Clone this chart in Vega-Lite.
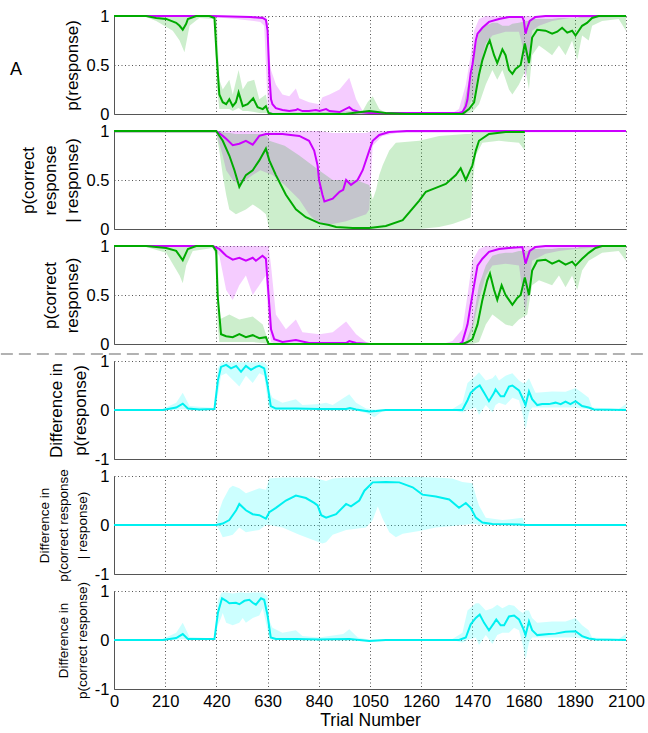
{
"$schema": "https://vega.github.io/schema/vega-lite/v6.json",
"padding": {"left": 0, "top": 8, "right": 0, "bottom": 5},
"bounds": "flush",
"spacing": 17,
"config": {
  "font": "Liberation Sans",
  "view": {"stroke": null},
  "axis": {"labelFont": "Liberation Sans", "titleFont": "Liberation Sans", "labelFontSize": 16.5, "titleFontSize": 17, "titleFontWeight": "normal", "labelColor": "#000", "titleColor": "#000", "domainColor": "#555", "domainWidth": 1, "gridColor": "#555", "gridDash": [1, 2.5], "gridOpacity": 1, "ticks": false, "labelPadding": 5, "titlePadding": 5, "labelOverlap": false, "labelFlush": false}
},
"datasets": {
"lines": [
{"p":1,"s":"P","t":0,"v":1},{"p":1,"s":"P","t":400,"v":1},{"p":1,"s":"P","t":560,"v":0.99},{"p":1,"s":"P","t":610,"v":0.98},{"p":1,"s":"P","t":623,"v":0.96},{"p":1,"s":"P","t":630,"v":0.85},{"p":1,"s":"P","t":637,"v":0.4},{"p":1,"s":"P","t":644,"v":0.15},{"p":1,"s":"P","t":650,"v":0.1},{"p":1,"s":"P","t":664,"v":0.06},{"p":1,"s":"P","t":691,"v":0.04},{"p":1,"s":"P","t":719,"v":0.03},{"p":1,"s":"P","t":746,"v":0.04},{"p":1,"s":"P","t":753,"v":0.05},{"p":1,"s":"P","t":773,"v":0.03},{"p":1,"s":"P","t":800,"v":0.03},{"p":1,"s":"P","t":828,"v":0.04},{"p":1,"s":"P","t":843,"v":0.03},{"p":1,"s":"P","t":870,"v":0.05},{"p":1,"s":"P","t":884,"v":0.03},{"p":1,"s":"P","t":925,"v":0.02},{"p":1,"s":"P","t":965,"v":0.07},{"p":1,"s":"P","t":979,"v":0.04},{"p":1,"s":"P","t":1006,"v":0.02},{"p":1,"s":"P","t":1047,"v":0.01},{"p":1,"s":"P","t":1415,"v":0.01},{"p":1,"s":"P","t":1429,"v":0.02},{"p":1,"s":"P","t":1443,"v":0.08},{"p":1,"s":"P","t":1450,"v":0.15},{"p":1,"s":"P","t":1456,"v":0.28},{"p":1,"s":"P","t":1463,"v":0.42},{"p":1,"s":"P","t":1470,"v":0.5},{"p":1,"s":"P","t":1477,"v":0.62},{"p":1,"s":"P","t":1484,"v":0.75},{"p":1,"s":"P","t":1491,"v":0.82},{"p":1,"s":"P","t":1511,"v":0.88},{"p":1,"s":"P","t":1538,"v":0.94},{"p":1,"s":"P","t":1579,"v":0.97},{"p":1,"s":"P","t":1620,"v":0.99},{"p":1,"s":"P","t":1675,"v":0.99},{"p":1,"s":"P","t":1681,"v":0.95},{"p":1,"s":"P","t":1688,"v":0.82},{"p":1,"s":"P","t":1695,"v":0.88},{"p":1,"s":"P","t":1705,"v":0.95},{"p":1,"s":"P","t":1729,"v":0.99},{"p":1,"s":"P","t":1770,"v":1},{"p":1,"s":"P","t":2100,"v":1},
{"p":1,"s":"G","t":0,"v":1},{"p":1,"s":"G","t":132,"v":1},{"p":1,"s":"G","t":173,"v":0.98},{"p":1,"s":"G","t":214,"v":0.97},{"p":1,"s":"G","t":255,"v":0.93},{"p":1,"s":"G","t":269,"v":0.9},{"p":1,"s":"G","t":282,"v":0.86},{"p":1,"s":"G","t":296,"v":0.92},{"p":1,"s":"G","t":303,"v":0.97},{"p":1,"s":"G","t":337,"v":1},{"p":1,"s":"G","t":391,"v":1},{"p":1,"s":"G","t":412,"v":0.98},{"p":1,"s":"G","t":421,"v":0.6},{"p":1,"s":"G","t":432,"v":0.2},{"p":1,"s":"G","t":446,"v":0.12},{"p":1,"s":"G","t":460,"v":0.1},{"p":1,"s":"G","t":473,"v":0.15},{"p":1,"s":"G","t":487,"v":0.08},{"p":1,"s":"G","t":500,"v":0.12},{"p":1,"s":"G","t":511,"v":0.22},{"p":1,"s":"G","t":528,"v":0.08},{"p":1,"s":"G","t":548,"v":0.1},{"p":1,"s":"G","t":571,"v":0.16},{"p":1,"s":"G","t":589,"v":0.07},{"p":1,"s":"G","t":610,"v":0.05},{"p":1,"s":"G","t":623,"v":0.08},{"p":1,"s":"G","t":634,"v":0.01},{"p":1,"s":"G","t":650,"v":0},{"p":1,"s":"G","t":950,"v":0},{"p":1,"s":"G","t":979,"v":0.01},{"p":1,"s":"G","t":1047,"v":0.03},{"p":1,"s":"G","t":1115,"v":0.01},{"p":1,"s":"G","t":1200,"v":0},{"p":1,"s":"G","t":1429,"v":0},{"p":1,"s":"G","t":1456,"v":0.05},{"p":1,"s":"G","t":1477,"v":0.12},{"p":1,"s":"G","t":1497,"v":0.4},{"p":1,"s":"G","t":1511,"v":0.55},{"p":1,"s":"G","t":1531,"v":0.7},{"p":1,"s":"G","t":1541,"v":0.75},{"p":1,"s":"G","t":1559,"v":0.6},{"p":1,"s":"G","t":1572,"v":0.52},{"p":1,"s":"G","t":1593,"v":0.66},{"p":1,"s":"G","t":1606,"v":0.6},{"p":1,"s":"G","t":1620,"v":0.45},{"p":1,"s":"G","t":1634,"v":0.41},{"p":1,"s":"G","t":1647,"v":0.46},{"p":1,"s":"G","t":1668,"v":0.5},{"p":1,"s":"G","t":1685,"v":0.72},{"p":1,"s":"G","t":1702,"v":0.52},{"p":1,"s":"G","t":1715,"v":0.78},{"p":1,"s":"G","t":1736,"v":0.86},{"p":1,"s":"G","t":1770,"v":0.85},{"p":1,"s":"G","t":1797,"v":0.82},{"p":1,"s":"G","t":1818,"v":0.84},{"p":1,"s":"G","t":1838,"v":0.88},{"p":1,"s":"G","t":1859,"v":0.83},{"p":1,"s":"G","t":1879,"v":0.85},{"p":1,"s":"G","t":1893,"v":0.8},{"p":1,"s":"G","t":1920,"v":0.9},{"p":1,"s":"G","t":1940,"v":0.93},{"p":1,"s":"G","t":1961,"v":0.98},{"p":1,"s":"G","t":1988,"v":1},{"p":1,"s":"G","t":2100,"v":1},
{"p":2,"s":"P","t":0,"v":1},{"p":2,"s":"P","t":419,"v":1},{"p":2,"s":"P","t":446,"v":0.95},{"p":2,"s":"P","t":460,"v":0.92},{"p":2,"s":"P","t":487,"v":0.855},{"p":2,"s":"P","t":514,"v":0.87},{"p":2,"s":"P","t":541,"v":0.9},{"p":2,"s":"P","t":569,"v":0.86},{"p":2,"s":"P","t":596,"v":0.95},{"p":2,"s":"P","t":623,"v":0.97},{"p":2,"s":"P","t":691,"v":0.97},{"p":2,"s":"P","t":760,"v":0.95},{"p":2,"s":"P","t":800,"v":0.9},{"p":2,"s":"P","t":821,"v":0.8},{"p":2,"s":"P","t":835,"v":0.65},{"p":2,"s":"P","t":841,"v":0.5},{"p":2,"s":"P","t":855,"v":0.35},{"p":2,"s":"P","t":863,"v":0.28},{"p":2,"s":"P","t":897,"v":0.31},{"p":2,"s":"P","t":925,"v":0.38},{"p":2,"s":"P","t":940,"v":0.4},{"p":2,"s":"P","t":952,"v":0.5},{"p":2,"s":"P","t":972,"v":0.45},{"p":2,"s":"P","t":999,"v":0.5},{"p":2,"s":"P","t":1020,"v":0.6},{"p":2,"s":"P","t":1047,"v":0.8},{"p":2,"s":"P","t":1061,"v":0.9},{"p":2,"s":"P","t":1088,"v":0.96},{"p":2,"s":"P","t":1129,"v":0.99},{"p":2,"s":"P","t":1200,"v":1},{"p":2,"s":"P","t":2100,"v":1},
{"p":2,"s":"G","t":0,"v":1},{"p":2,"s":"G","t":419,"v":1},{"p":2,"s":"G","t":446,"v":0.9},{"p":2,"s":"G","t":473,"v":0.75},{"p":2,"s":"G","t":494,"v":0.6},{"p":2,"s":"G","t":514,"v":0.43},{"p":2,"s":"G","t":541,"v":0.55},{"p":2,"s":"G","t":569,"v":0.6},{"p":2,"s":"G","t":596,"v":0.7},{"p":2,"s":"G","t":623,"v":0.82},{"p":2,"s":"G","t":637,"v":0.7},{"p":2,"s":"G","t":664,"v":0.55},{"p":2,"s":"G","t":705,"v":0.35},{"p":2,"s":"G","t":746,"v":0.2},{"p":2,"s":"G","t":787,"v":0.12},{"p":2,"s":"G","t":841,"v":0.06},{"p":2,"s":"G","t":882,"v":0.04},{"p":2,"s":"G","t":911,"v":0.02},{"p":2,"s":"G","t":979,"v":0.01},{"p":2,"s":"G","t":1047,"v":0.01},{"p":2,"s":"G","t":1115,"v":0.03},{"p":2,"s":"G","t":1184,"v":0.09},{"p":2,"s":"G","t":1252,"v":0.29},{"p":2,"s":"G","t":1279,"v":0.38},{"p":2,"s":"G","t":1320,"v":0.42},{"p":2,"s":"G","t":1361,"v":0.46},{"p":2,"s":"G","t":1402,"v":0.55},{"p":2,"s":"G","t":1422,"v":0.62},{"p":2,"s":"G","t":1443,"v":0.5},{"p":2,"s":"G","t":1470,"v":0.65},{"p":2,"s":"G","t":1484,"v":0.8},{"p":2,"s":"G","t":1497,"v":0.9},{"p":2,"s":"G","t":1538,"v":0.97},{"p":2,"s":"G","t":1606,"v":0.99},{"p":2,"s":"G","t":1685,"v":0.99},
{"p":3,"s":"P","t":0,"v":1},{"p":3,"s":"P","t":405,"v":1},{"p":3,"s":"P","t":432,"v":0.97},{"p":3,"s":"P","t":460,"v":0.9},{"p":3,"s":"P","t":487,"v":0.86},{"p":3,"s":"P","t":514,"v":0.88},{"p":3,"s":"P","t":541,"v":0.85},{"p":3,"s":"P","t":569,"v":0.88},{"p":3,"s":"P","t":582,"v":0.85},{"p":3,"s":"P","t":609,"v":0.9},{"p":3,"s":"P","t":623,"v":0.87},{"p":3,"s":"P","t":634,"v":0.5},{"p":3,"s":"P","t":644,"v":0.15},{"p":3,"s":"P","t":657,"v":0.05},{"p":3,"s":"P","t":691,"v":0.02},{"p":3,"s":"P","t":746,"v":0.04},{"p":3,"s":"P","t":800,"v":0.01},{"p":3,"s":"P","t":952,"v":0.01},{"p":3,"s":"P","t":965,"v":0.03},{"p":3,"s":"P","t":993,"v":0.01},{"p":3,"s":"P","t":1047,"v":0},{"p":3,"s":"P","t":1415,"v":0},{"p":3,"s":"P","t":1429,"v":0.02},{"p":3,"s":"P","t":1450,"v":0.2},{"p":3,"s":"P","t":1463,"v":0.4},{"p":3,"s":"P","t":1477,"v":0.6},{"p":3,"s":"P","t":1491,"v":0.8},{"p":3,"s":"P","t":1511,"v":0.87},{"p":3,"s":"P","t":1538,"v":0.94},{"p":3,"s":"P","t":1579,"v":0.97},{"p":3,"s":"P","t":1620,"v":0.98},{"p":3,"s":"P","t":1675,"v":0.99},{"p":3,"s":"P","t":1688,"v":0.82},{"p":3,"s":"P","t":1705,"v":0.95},{"p":3,"s":"P","t":1729,"v":0.99},{"p":3,"s":"P","t":1770,"v":1},{"p":3,"s":"P","t":2100,"v":1},
{"p":3,"s":"G","t":0,"v":1},{"p":3,"s":"G","t":132,"v":1},{"p":3,"s":"G","t":214,"v":0.98},{"p":3,"s":"G","t":255,"v":0.95},{"p":3,"s":"G","t":282,"v":0.855},{"p":3,"s":"G","t":303,"v":0.97},{"p":3,"s":"G","t":337,"v":1},{"p":3,"s":"G","t":405,"v":1},{"p":3,"s":"G","t":419,"v":0.95},{"p":3,"s":"G","t":425,"v":0.5},{"p":3,"s":"G","t":439,"v":0.1},{"p":3,"s":"G","t":460,"v":0.08},{"p":3,"s":"G","t":487,"v":0.07},{"p":3,"s":"G","t":514,"v":0.1},{"p":3,"s":"G","t":541,"v":0.07},{"p":3,"s":"G","t":569,"v":0.09},{"p":3,"s":"G","t":596,"v":0.06},{"p":3,"s":"G","t":623,"v":0.07},{"p":3,"s":"G","t":634,"v":0},{"p":3,"s":"G","t":1429,"v":0},{"p":3,"s":"G","t":1450,"v":0.02},{"p":3,"s":"G","t":1470,"v":0.05},{"p":3,"s":"G","t":1491,"v":0.2},{"p":3,"s":"G","t":1511,"v":0.45},{"p":3,"s":"G","t":1531,"v":0.65},{"p":3,"s":"G","t":1542,"v":0.72},{"p":3,"s":"G","t":1559,"v":0.55},{"p":3,"s":"G","t":1572,"v":0.45},{"p":3,"s":"G","t":1590,"v":0.6},{"p":3,"s":"G","t":1606,"v":0.5},{"p":3,"s":"G","t":1620,"v":0.45},{"p":3,"s":"G","t":1634,"v":0.4},{"p":3,"s":"G","t":1654,"v":0.47},{"p":3,"s":"G","t":1668,"v":0.5},{"p":3,"s":"G","t":1685,"v":0.68},{"p":3,"s":"G","t":1702,"v":0.5},{"p":3,"s":"G","t":1715,"v":0.75},{"p":3,"s":"G","t":1736,"v":0.85},{"p":3,"s":"G","t":1770,"v":0.86},{"p":3,"s":"G","t":1797,"v":0.82},{"p":3,"s":"G","t":1825,"v":0.85},{"p":3,"s":"G","t":1852,"v":0.81},{"p":3,"s":"G","t":1879,"v":0.84},{"p":3,"s":"G","t":1893,"v":0.8},{"p":3,"s":"G","t":1920,"v":0.87},{"p":3,"s":"G","t":1947,"v":0.93},{"p":3,"s":"G","t":1975,"v":0.98},{"p":3,"s":"G","t":2002,"v":1},{"p":3,"s":"G","t":2100,"v":1},
{"p":4,"s":"C","t":0,"v":0},{"p":4,"s":"C","t":200,"v":0},{"p":4,"s":"C","t":255,"v":0.05},{"p":4,"s":"C","t":282,"v":0.13},{"p":4,"s":"C","t":303,"v":0.03},{"p":4,"s":"C","t":350,"v":0.01},{"p":4,"s":"C","t":412,"v":0.02},{"p":4,"s":"C","t":426,"v":0.6},{"p":4,"s":"C","t":439,"v":0.88},{"p":4,"s":"C","t":460,"v":0.92},{"p":4,"s":"C","t":480,"v":0.85},{"p":4,"s":"C","t":501,"v":0.9},{"p":4,"s":"C","t":521,"v":0.78},{"p":4,"s":"C","t":541,"v":0.9},{"p":4,"s":"C","t":562,"v":0.82},{"p":4,"s":"C","t":582,"v":0.88},{"p":4,"s":"C","t":596,"v":0.9},{"p":4,"s":"C","t":616,"v":0.85},{"p":4,"s":"C","t":630,"v":0.5},{"p":4,"s":"C","t":643,"v":0.08},{"p":4,"s":"C","t":664,"v":0.03},{"p":4,"s":"C","t":746,"v":0.03},{"p":4,"s":"C","t":841,"v":0.02},{"p":4,"s":"C","t":952,"v":0.02},{"p":4,"s":"C","t":968,"v":0.04},{"p":4,"s":"C","t":993,"v":0.01},{"p":4,"s":"C","t":1047,"v":-0.03},{"p":4,"s":"C","t":1075,"v":-0.02},{"p":4,"s":"C","t":1115,"v":0},{"p":4,"s":"C","t":1429,"v":0},{"p":4,"s":"C","t":1450,"v":0.2},{"p":4,"s":"C","t":1463,"v":0.35},{"p":4,"s":"C","t":1484,"v":0.45},{"p":4,"s":"C","t":1500,"v":0.5},{"p":4,"s":"C","t":1518,"v":0.35},{"p":4,"s":"C","t":1538,"v":0.18},{"p":4,"s":"C","t":1559,"v":0.35},{"p":4,"s":"C","t":1565,"v":0.42},{"p":4,"s":"C","t":1586,"v":0.28},{"p":4,"s":"C","t":1600,"v":0.28},{"p":4,"s":"C","t":1620,"v":0.48},{"p":4,"s":"C","t":1634,"v":0.5},{"p":4,"s":"C","t":1661,"v":0.4},{"p":4,"s":"C","t":1675,"v":0.25},{"p":4,"s":"C","t":1688,"v":0.1},{"p":4,"s":"C","t":1702,"v":0.38},{"p":4,"s":"C","t":1715,"v":0.22},{"p":4,"s":"C","t":1736,"v":0.1},{"p":4,"s":"C","t":1756,"v":0.12},{"p":4,"s":"C","t":1784,"v":0.12},{"p":4,"s":"C","t":1811,"v":0.15},{"p":4,"s":"C","t":1832,"v":0.12},{"p":4,"s":"C","t":1852,"v":0.17},{"p":4,"s":"C","t":1872,"v":0.12},{"p":4,"s":"C","t":1893,"v":0.18},{"p":4,"s":"C","t":1920,"v":0.08},{"p":4,"s":"C","t":1947,"v":0.05},{"p":4,"s":"C","t":1968,"v":0.01},{"p":4,"s":"C","t":2100,"v":0},
{"p":5,"s":"C","t":0,"v":0},{"p":5,"s":"C","t":419,"v":0},{"p":5,"s":"C","t":446,"v":0.03},{"p":5,"s":"C","t":473,"v":0.1},{"p":5,"s":"C","t":501,"v":0.3},{"p":5,"s":"C","t":514,"v":0.43},{"p":5,"s":"C","t":541,"v":0.3},{"p":5,"s":"C","t":569,"v":0.22},{"p":5,"s":"C","t":596,"v":0.2},{"p":5,"s":"C","t":623,"v":0.13},{"p":5,"s":"C","t":637,"v":0.26},{"p":5,"s":"C","t":664,"v":0.35},{"p":5,"s":"C","t":705,"v":0.5},{"p":5,"s":"C","t":746,"v":0.6},{"p":5,"s":"C","t":787,"v":0.55},{"p":5,"s":"C","t":821,"v":0.45},{"p":5,"s":"C","t":835,"v":0.4},{"p":5,"s":"C","t":850,"v":0.2},{"p":5,"s":"C","t":870,"v":0.15},{"p":5,"s":"C","t":911,"v":0.22},{"p":5,"s":"C","t":952,"v":0.43},{"p":5,"s":"C","t":972,"v":0.38},{"p":5,"s":"C","t":1006,"v":0.5},{"p":5,"s":"C","t":1027,"v":0.7},{"p":5,"s":"C","t":1061,"v":0.87},{"p":5,"s":"C","t":1115,"v":0.88},{"p":5,"s":"C","t":1170,"v":0.87},{"p":5,"s":"C","t":1225,"v":0.77},{"p":5,"s":"C","t":1265,"v":0.62},{"p":5,"s":"C","t":1320,"v":0.58},{"p":5,"s":"C","t":1375,"v":0.52},{"p":5,"s":"C","t":1415,"v":0.35},{"p":5,"s":"C","t":1443,"v":0.45},{"p":5,"s":"C","t":1463,"v":0.35},{"p":5,"s":"C","t":1484,"v":0.15},{"p":5,"s":"C","t":1511,"v":0.05},{"p":5,"s":"C","t":1552,"v":0.02},{"p":5,"s":"C","t":1661,"v":0.01},{"p":5,"s":"C","t":1688,"v":0},{"p":5,"s":"C","t":2100,"v":0},
{"p":6,"s":"C","t":0,"v":0},{"p":6,"s":"C","t":200,"v":0},{"p":6,"s":"C","t":255,"v":0.04},{"p":6,"s":"C","t":282,"v":0.12},{"p":6,"s":"C","t":303,"v":0.02},{"p":6,"s":"C","t":412,"v":0.02},{"p":6,"s":"C","t":426,"v":0.55},{"p":6,"s":"C","t":443,"v":0.85},{"p":6,"s":"C","t":460,"v":0.8},{"p":6,"s":"C","t":473,"v":0.75},{"p":6,"s":"C","t":500,"v":0.76},{"p":6,"s":"C","t":514,"v":0.73},{"p":6,"s":"C","t":535,"v":0.8},{"p":6,"s":"C","t":555,"v":0.82},{"p":6,"s":"C","t":569,"v":0.76},{"p":6,"s":"C","t":582,"v":0.72},{"p":6,"s":"C","t":603,"v":0.85},{"p":6,"s":"C","t":616,"v":0.82},{"p":6,"s":"C","t":630,"v":0.5},{"p":6,"s":"C","t":643,"v":0.05},{"p":6,"s":"C","t":664,"v":0.02},{"p":6,"s":"C","t":746,"v":0.02},{"p":6,"s":"C","t":841,"v":0.01},{"p":6,"s":"C","t":965,"v":0.02},{"p":6,"s":"C","t":1047,"v":-0.02},{"p":6,"s":"C","t":1115,"v":0},{"p":6,"s":"C","t":1415,"v":0},{"p":6,"s":"C","t":1443,"v":0.05},{"p":6,"s":"C","t":1463,"v":0.32},{"p":6,"s":"C","t":1484,"v":0.45},{"p":6,"s":"C","t":1500,"v":0.52},{"p":6,"s":"C","t":1518,"v":0.35},{"p":6,"s":"C","t":1538,"v":0.2},{"p":6,"s":"C","t":1559,"v":0.35},{"p":6,"s":"C","t":1568,"v":0.42},{"p":6,"s":"C","t":1586,"v":0.3},{"p":6,"s":"C","t":1600,"v":0.3},{"p":6,"s":"C","t":1620,"v":0.48},{"p":6,"s":"C","t":1641,"v":0.5},{"p":6,"s":"C","t":1661,"v":0.42},{"p":6,"s":"C","t":1677,"v":0.25},{"p":6,"s":"C","t":1688,"v":0.1},{"p":6,"s":"C","t":1702,"v":0.38},{"p":6,"s":"C","t":1715,"v":0.2},{"p":6,"s":"C","t":1736,"v":0.1},{"p":6,"s":"C","t":1784,"v":0.12},{"p":6,"s":"C","t":1811,"v":0.13},{"p":6,"s":"C","t":1852,"v":0.17},{"p":6,"s":"C","t":1893,"v":0.18},{"p":6,"s":"C","t":1920,"v":0.08},{"p":6,"s":"C","t":1947,"v":0.03},{"p":6,"s":"C","t":1975,"v":0.01},{"p":6,"s":"C","t":2100,"v":0}
],
"bands": [
{"p":1,"s":"P","t":0,"lo":0.99,"hi":1},{"p":1,"s":"P","t":400,"lo":0.99,"hi":1},{"p":1,"s":"P","t":500,"lo":0.97,"hi":1},{"p":1,"s":"P","t":600,"lo":0.94,"hi":1},{"p":1,"s":"P","t":616,"lo":0.9,"hi":1},{"p":1,"s":"P","t":623,"lo":0.5,"hi":1},{"p":1,"s":"P","t":630,"lo":0.1,"hi":0.95},{"p":1,"s":"P","t":637,"lo":0.02,"hi":0.6},{"p":1,"s":"P","t":644,"lo":0.01,"hi":0.45},{"p":1,"s":"P","t":664,"lo":0.01,"hi":0.3},{"p":1,"s":"P","t":691,"lo":0.01,"hi":0.2},{"p":1,"s":"P","t":719,"lo":0.01,"hi":0.18},{"p":1,"s":"P","t":746,"lo":0.01,"hi":0.26},{"p":1,"s":"P","t":760,"lo":0.01,"hi":0.16},{"p":1,"s":"P","t":800,"lo":0.01,"hi":0.12},{"p":1,"s":"P","t":841,"lo":0,"hi":0.1},{"p":1,"s":"P","t":855,"lo":0,"hi":0.17},{"p":1,"s":"P","t":884,"lo":0,"hi":0.2},{"p":1,"s":"P","t":925,"lo":0,"hi":0.25},{"p":1,"s":"P","t":965,"lo":0,"hi":0.37},{"p":1,"s":"P","t":993,"lo":0,"hi":0.15},{"p":1,"s":"P","t":1020,"lo":0,"hi":0.03},{"p":1,"s":"P","t":1047,"lo":0,"hi":0.01},{"p":1,"s":"P","t":1388,"lo":0,"hi":0.01},{"p":1,"s":"P","t":1415,"lo":0,"hi":0.05},{"p":1,"s":"P","t":1443,"lo":0,"hi":0.3},{"p":1,"s":"P","t":1463,"lo":0.12,"hi":0.6},{"p":1,"s":"P","t":1477,"lo":0.2,"hi":0.85},{"p":1,"s":"P","t":1497,"lo":0.45,"hi":0.97},{"p":1,"s":"P","t":1525,"lo":0.72,"hi":1},{"p":1,"s":"P","t":1552,"lo":0.8,"hi":1},{"p":1,"s":"P","t":1606,"lo":0.84,"hi":1},{"p":1,"s":"P","t":1661,"lo":0.84,"hi":1},{"p":1,"s":"P","t":1675,"lo":0.7,"hi":1},{"p":1,"s":"P","t":1688,"lo":0.35,"hi":1},{"p":1,"s":"P","t":1702,"lo":0.6,"hi":1},{"p":1,"s":"P","t":1715,"lo":0.85,"hi":1},{"p":1,"s":"P","t":1743,"lo":0.9,"hi":1},{"p":1,"s":"P","t":1797,"lo":0.95,"hi":1},{"p":1,"s":"P","t":1870,"lo":0.98,"hi":1},{"p":1,"s":"P","t":2100,"lo":0.99,"hi":1},
{"p":1,"s":"G","t":0,"lo":1,"hi":1},{"p":1,"s":"G","t":132,"lo":0.99,"hi":1},{"p":1,"s":"G","t":173,"lo":0.95,"hi":1},{"p":1,"s":"G","t":241,"lo":0.85,"hi":1},{"p":1,"s":"G","t":269,"lo":0.75,"hi":1},{"p":1,"s":"G","t":289,"lo":0.63,"hi":1},{"p":1,"s":"G","t":310,"lo":0.9,"hi":1},{"p":1,"s":"G","t":350,"lo":0.98,"hi":1},{"p":1,"s":"G","t":412,"lo":0.97,"hi":1},{"p":1,"s":"G","t":421,"lo":0.3,"hi":1},{"p":1,"s":"G","t":432,"lo":0.05,"hi":0.35},{"p":1,"s":"G","t":446,"lo":0.05,"hi":0.25},{"p":1,"s":"G","t":473,"lo":0.05,"hi":0.35},{"p":1,"s":"G","t":487,"lo":0.03,"hi":0.2},{"p":1,"s":"G","t":511,"lo":0.06,"hi":0.45},{"p":1,"s":"G","t":528,"lo":0.03,"hi":0.25},{"p":1,"s":"G","t":548,"lo":0.03,"hi":0.33},{"p":1,"s":"G","t":575,"lo":0.02,"hi":0.35},{"p":1,"s":"G","t":596,"lo":0.01,"hi":0.15},{"p":1,"s":"G","t":623,"lo":0.01,"hi":0.2},{"p":1,"s":"G","t":634,"lo":0,"hi":0.03},{"p":1,"s":"G","t":650,"lo":0,"hi":0.01},{"p":1,"s":"G","t":1020,"lo":0,"hi":0.03},{"p":1,"s":"G","t":1040,"lo":0,"hi":0.12},{"p":1,"s":"G","t":1061,"lo":0,"hi":0.18},{"p":1,"s":"G","t":1088,"lo":0,"hi":0.05},{"p":1,"s":"G","t":1115,"lo":0,"hi":0.01},{"p":1,"s":"G","t":1429,"lo":0,"hi":0.01},{"p":1,"s":"G","t":1443,"lo":0,"hi":0.2},{"p":1,"s":"G","t":1470,"lo":0.02,"hi":0.5},{"p":1,"s":"G","t":1497,"lo":0.1,"hi":0.85},{"p":1,"s":"G","t":1525,"lo":0.3,"hi":0.9},{"p":1,"s":"G","t":1552,"lo":0.45,"hi":0.93},{"p":1,"s":"G","t":1572,"lo":0.35,"hi":0.93},{"p":1,"s":"G","t":1593,"lo":0.45,"hi":0.9},{"p":1,"s":"G","t":1620,"lo":0.25,"hi":0.9},{"p":1,"s":"G","t":1634,"lo":0.2,"hi":0.92},{"p":1,"s":"G","t":1661,"lo":0.3,"hi":0.93},{"p":1,"s":"G","t":1688,"lo":0.45,"hi":0.95},{"p":1,"s":"G","t":1702,"lo":0.25,"hi":0.95},{"p":1,"s":"G","t":1715,"lo":0.6,"hi":0.97},{"p":1,"s":"G","t":1743,"lo":0.7,"hi":0.97},{"p":1,"s":"G","t":1770,"lo":0.65,"hi":0.97},{"p":1,"s":"G","t":1797,"lo":0.6,"hi":0.97},{"p":1,"s":"G","t":1825,"lo":0.7,"hi":0.98},{"p":1,"s":"G","t":1852,"lo":0.6,"hi":0.98},{"p":1,"s":"G","t":1879,"lo":0.75,"hi":0.98},{"p":1,"s":"G","t":1900,"lo":0.55,"hi":0.98},{"p":1,"s":"G","t":1920,"lo":0.8,"hi":1},{"p":1,"s":"G","t":1947,"lo":0.75,"hi":1},{"p":1,"s":"G","t":1961,"lo":0.9,"hi":1},{"p":1,"s":"G","t":2002,"lo":0.95,"hi":1},{"p":1,"s":"G","t":2070,"lo":0.97,"hi":1},{"p":1,"s":"G","t":2100,"lo":0.85,"hi":1},
{"p":2,"s":"P","t":0,"lo":0.98,"hi":1},{"p":2,"s":"P","t":419,"lo":0.98,"hi":1},{"p":2,"s":"P","t":446,"lo":0.75,"hi":1},{"p":2,"s":"P","t":460,"lo":0.6,"hi":1},{"p":2,"s":"P","t":487,"lo":0.5,"hi":1},{"p":2,"s":"P","t":514,"lo":0.45,"hi":1},{"p":2,"s":"P","t":541,"lo":0.5,"hi":1},{"p":2,"s":"P","t":569,"lo":0.55,"hi":1},{"p":2,"s":"P","t":600,"lo":0.6,"hi":1},{"p":2,"s":"P","t":650,"lo":0.55,"hi":1},{"p":2,"s":"P","t":700,"lo":0.45,"hi":1},{"p":2,"s":"P","t":760,"lo":0.3,"hi":1},{"p":2,"s":"P","t":800,"lo":0.15,"hi":1},{"p":2,"s":"P","t":841,"lo":0.05,"hi":1},{"p":2,"s":"P","t":897,"lo":0.05,"hi":0.98},{"p":2,"s":"P","t":952,"lo":0.08,"hi":0.98},{"p":2,"s":"P","t":1034,"lo":0.15,"hi":0.98},{"p":2,"s":"P","t":1047,"lo":0.2,"hi":0.99},{"p":2,"s":"P","t":1061,"lo":0.85,"hi":1},{"p":2,"s":"P","t":1100,"lo":0.95,"hi":1},{"p":2,"s":"P","t":1160,"lo":0.98,"hi":1},{"p":2,"s":"P","t":2100,"lo":0.99,"hi":1},
{"p":2,"s":"G","t":0,"lo":0.98,"hi":1},{"p":2,"s":"G","t":419,"lo":0.98,"hi":1},{"p":2,"s":"G","t":432,"lo":0.8,"hi":1},{"p":2,"s":"G","t":446,"lo":0.55,"hi":0.99},{"p":2,"s":"G","t":460,"lo":0.35,"hi":0.98},{"p":2,"s":"G","t":473,"lo":0.2,"hi":0.98},{"p":2,"s":"G","t":500,"lo":0.15,"hi":0.97},{"p":2,"s":"G","t":541,"lo":0.2,"hi":0.97},{"p":2,"s":"G","t":569,"lo":0.25,"hi":0.97},{"p":2,"s":"G","t":600,"lo":0.2,"hi":0.97},{"p":2,"s":"G","t":623,"lo":0.15,"hi":0.97},{"p":2,"s":"G","t":637,"lo":0,"hi":0.9},{"p":2,"s":"G","t":700,"lo":0,"hi":0.85},{"p":2,"s":"G","t":760,"lo":0,"hi":0.75},{"p":2,"s":"G","t":841,"lo":0,"hi":0.6},{"p":2,"s":"G","t":897,"lo":0,"hi":0.5},{"p":2,"s":"G","t":993,"lo":0,"hi":0.5},{"p":2,"s":"G","t":1047,"lo":0,"hi":0.45},{"p":2,"s":"G","t":1061,"lo":0,"hi":0.3},{"p":2,"s":"G","t":1075,"lo":0,"hi":0.4},{"p":2,"s":"G","t":1088,"lo":0,"hi":0.55},{"p":2,"s":"G","t":1102,"lo":0,"hi":0.65},{"p":2,"s":"G","t":1129,"lo":0,"hi":0.8},{"p":2,"s":"G","t":1156,"lo":0,"hi":0.88},{"p":2,"s":"G","t":1252,"lo":0,"hi":0.9},{"p":2,"s":"G","t":1334,"lo":0.02,"hi":0.95},{"p":2,"s":"G","t":1388,"lo":0.05,"hi":0.96},{"p":2,"s":"G","t":1443,"lo":0.1,"hi":0.97},{"p":2,"s":"G","t":1463,"lo":0.12,"hi":0.97},{"p":2,"s":"G","t":1470,"lo":0.45,"hi":1},{"p":2,"s":"G","t":1484,"lo":0.75,"hi":1},{"p":2,"s":"G","t":1511,"lo":0.88,"hi":1},{"p":2,"s":"G","t":1579,"lo":0.9,"hi":1},{"p":2,"s":"G","t":1661,"lo":0.88,"hi":1},{"p":2,"s":"G","t":1685,"lo":0.8,"hi":1},
{"p":3,"s":"P","t":0,"lo":0.99,"hi":1},{"p":3,"s":"P","t":405,"lo":0.99,"hi":1},{"p":3,"s":"P","t":432,"lo":0.9,"hi":1},{"p":3,"s":"P","t":460,"lo":0.55,"hi":1},{"p":3,"s":"P","t":487,"lo":0.45,"hi":1},{"p":3,"s":"P","t":514,"lo":0.6,"hi":1},{"p":3,"s":"P","t":541,"lo":0.7,"hi":1},{"p":3,"s":"P","t":569,"lo":0.5,"hi":1},{"p":3,"s":"P","t":596,"lo":0.6,"hi":1},{"p":3,"s":"P","t":623,"lo":0.7,"hi":1},{"p":3,"s":"P","t":634,"lo":0.2,"hi":1},{"p":3,"s":"P","t":644,"lo":0.02,"hi":0.8},{"p":3,"s":"P","t":664,"lo":0,"hi":0.3},{"p":3,"s":"P","t":705,"lo":0,"hi":0.15},{"p":3,"s":"P","t":746,"lo":0,"hi":0.25},{"p":3,"s":"P","t":773,"lo":0,"hi":0.12},{"p":3,"s":"P","t":843,"lo":0,"hi":0.1},{"p":3,"s":"P","t":897,"lo":0,"hi":0.12},{"p":3,"s":"P","t":952,"lo":0,"hi":0.23},{"p":3,"s":"P","t":993,"lo":0,"hi":0.1},{"p":3,"s":"P","t":1034,"lo":0,"hi":0.02},{"p":3,"s":"P","t":1047,"lo":0,"hi":0.01},{"p":3,"s":"P","t":1361,"lo":0,"hi":0.01},{"p":3,"s":"P","t":1388,"lo":0,"hi":0.03},{"p":3,"s":"P","t":1429,"lo":0,"hi":0.15},{"p":3,"s":"P","t":1450,"lo":0,"hi":0.5},{"p":3,"s":"P","t":1470,"lo":0.15,"hi":0.85},{"p":3,"s":"P","t":1497,"lo":0.45,"hi":0.97},{"p":3,"s":"P","t":1525,"lo":0.7,"hi":1},{"p":3,"s":"P","t":1552,"lo":0.8,"hi":1},{"p":3,"s":"P","t":1606,"lo":0.82,"hi":1},{"p":3,"s":"P","t":1661,"lo":0.8,"hi":1},{"p":3,"s":"P","t":1688,"lo":0.32,"hi":1},{"p":3,"s":"P","t":1715,"lo":0.85,"hi":1},{"p":3,"s":"P","t":1770,"lo":0.92,"hi":1},{"p":3,"s":"P","t":1825,"lo":0.95,"hi":1},{"p":3,"s":"P","t":1893,"lo":0.97,"hi":1},{"p":3,"s":"P","t":2000,"lo":0.99,"hi":1},{"p":3,"s":"P","t":2100,"lo":0.99,"hi":1},
{"p":3,"s":"G","t":0,"lo":1,"hi":1},{"p":3,"s":"G","t":132,"lo":0.99,"hi":1},{"p":3,"s":"G","t":214,"lo":0.93,"hi":1},{"p":3,"s":"G","t":269,"lo":0.7,"hi":1},{"p":3,"s":"G","t":282,"lo":0.62,"hi":1},{"p":3,"s":"G","t":296,"lo":0.8,"hi":1},{"p":3,"s":"G","t":323,"lo":0.95,"hi":1},{"p":3,"s":"G","t":405,"lo":0.98,"hi":1},{"p":3,"s":"G","t":419,"lo":0.9,"hi":1},{"p":3,"s":"G","t":425,"lo":0.2,"hi":1},{"p":3,"s":"G","t":432,"lo":0.02,"hi":0.25},{"p":3,"s":"G","t":473,"lo":0.02,"hi":0.3},{"p":3,"s":"G","t":514,"lo":0.02,"hi":0.25},{"p":3,"s":"G","t":569,"lo":0.02,"hi":0.28},{"p":3,"s":"G","t":610,"lo":0.01,"hi":0.2},{"p":3,"s":"G","t":634,"lo":0,"hi":0.02},{"p":3,"s":"G","t":650,"lo":0,"hi":0.01},{"p":3,"s":"G","t":1429,"lo":0,"hi":0.01},{"p":3,"s":"G","t":1443,"lo":0,"hi":0.02},{"p":3,"s":"G","t":1470,"lo":0,"hi":0.2},{"p":3,"s":"G","t":1497,"lo":0.02,"hi":0.6},{"p":3,"s":"G","t":1525,"lo":0.2,"hi":0.8},{"p":3,"s":"G","t":1552,"lo":0.3,"hi":0.9},{"p":3,"s":"G","t":1579,"lo":0.25,"hi":0.92},{"p":3,"s":"G","t":1606,"lo":0.2,"hi":0.93},{"p":3,"s":"G","t":1634,"lo":0.18,"hi":0.93},{"p":3,"s":"G","t":1661,"lo":0.25,"hi":0.95},{"p":3,"s":"G","t":1695,"lo":0.3,"hi":0.95},{"p":3,"s":"G","t":1715,"lo":0.6,"hi":0.97},{"p":3,"s":"G","t":1743,"lo":0.65,"hi":0.97},{"p":3,"s":"G","t":1797,"lo":0.6,"hi":0.97},{"p":3,"s":"G","t":1825,"lo":0.7,"hi":0.98},{"p":3,"s":"G","t":1852,"lo":0.58,"hi":0.98},{"p":3,"s":"G","t":1879,"lo":0.7,"hi":0.98},{"p":3,"s":"G","t":1900,"lo":0.55,"hi":0.98},{"p":3,"s":"G","t":1920,"lo":0.75,"hi":1},{"p":3,"s":"G","t":1947,"lo":0.85,"hi":1},{"p":3,"s":"G","t":2002,"lo":0.93,"hi":1},{"p":3,"s":"G","t":2070,"lo":0.95,"hi":1},{"p":3,"s":"G","t":2100,"lo":0.85,"hi":1},
{"p":4,"s":"C","t":0,"lo":0,"hi":0},{"p":4,"s":"C","t":200,"lo":0,"hi":0.02},{"p":4,"s":"C","t":255,"lo":0,"hi":0.15},{"p":4,"s":"C","t":282,"lo":0.02,"hi":0.35},{"p":4,"s":"C","t":310,"lo":0,"hi":0.08},{"p":4,"s":"C","t":412,"lo":0,"hi":0.04},{"p":4,"s":"C","t":426,"lo":0.3,"hi":0.85},{"p":4,"s":"C","t":439,"lo":0.7,"hi":0.97},{"p":4,"s":"C","t":460,"lo":0.75,"hi":0.98},{"p":4,"s":"C","t":480,"lo":0.65,"hi":0.97},{"p":4,"s":"C","t":500,"lo":0.55,"hi":0.98},{"p":4,"s":"C","t":514,"lo":0.48,"hi":0.97},{"p":4,"s":"C","t":541,"lo":0.7,"hi":0.98},{"p":4,"s":"C","t":569,"lo":0.55,"hi":0.97},{"p":4,"s":"C","t":596,"lo":0.75,"hi":0.98},{"p":4,"s":"C","t":616,"lo":0.7,"hi":0.97},{"p":4,"s":"C","t":630,"lo":0.2,"hi":0.9},{"p":4,"s":"C","t":637,"lo":0.02,"hi":0.4},{"p":4,"s":"C","t":650,"lo":0,"hi":0.25},{"p":4,"s":"C","t":691,"lo":0,"hi":0.15},{"p":4,"s":"C","t":746,"lo":0,"hi":0.22},{"p":4,"s":"C","t":773,"lo":0,"hi":0.1},{"p":4,"s":"C","t":841,"lo":0,"hi":0.12},{"p":4,"s":"C","t":870,"lo":-0.01,"hi":0.15},{"p":4,"s":"C","t":897,"lo":-0.01,"hi":0.1},{"p":4,"s":"C","t":965,"lo":-0.01,"hi":0.32},{"p":4,"s":"C","t":993,"lo":-0.01,"hi":0.15},{"p":4,"s":"C","t":1034,"lo":-0.06,"hi":0.03},{"p":4,"s":"C","t":1068,"lo":-0.15,"hi":0.01},{"p":4,"s":"C","t":1102,"lo":-0.02,"hi":0.01},{"p":4,"s":"C","t":1150,"lo":0,"hi":0.01},{"p":4,"s":"C","t":1388,"lo":0,"hi":0.02},{"p":4,"s":"C","t":1429,"lo":-0.05,"hi":0.15},{"p":4,"s":"C","t":1450,"lo":0,"hi":0.55},{"p":4,"s":"C","t":1484,"lo":0.05,"hi":0.7},{"p":4,"s":"C","t":1497,"lo":-0.1,"hi":0.77},{"p":4,"s":"C","t":1525,"lo":0.1,"hi":0.6},{"p":4,"s":"C","t":1552,"lo":-0.05,"hi":0.65},{"p":4,"s":"C","t":1565,"lo":0.1,"hi":0.72},{"p":4,"s":"C","t":1579,"lo":0.15,"hi":0.6},{"p":4,"s":"C","t":1606,"lo":0.1,"hi":0.7},{"p":4,"s":"C","t":1634,"lo":0.25,"hi":0.75},{"p":4,"s":"C","t":1661,"lo":0.2,"hi":0.6},{"p":4,"s":"C","t":1677,"lo":-0.1,"hi":0.55},{"p":4,"s":"C","t":1688,"lo":-0.4,"hi":0.55},{"p":4,"s":"C","t":1702,"lo":-0.05,"hi":0.65},{"p":4,"s":"C","t":1715,"lo":0.05,"hi":0.5},{"p":4,"s":"C","t":1729,"lo":0.05,"hi":0.35},{"p":4,"s":"C","t":1797,"lo":0.05,"hi":0.38},{"p":4,"s":"C","t":1852,"lo":0.05,"hi":0.37},{"p":4,"s":"C","t":1893,"lo":0.05,"hi":0.45},{"p":4,"s":"C","t":1920,"lo":0.03,"hi":0.35},{"p":4,"s":"C","t":1947,"lo":0.02,"hi":0.25},{"p":4,"s":"C","t":1961,"lo":0,"hi":0.05},{"p":4,"s":"C","t":2070,"lo":0,"hi":0.02},{"p":4,"s":"C","t":2100,"lo":0,"hi":0.12},
{"p":5,"s":"C","t":0,"lo":0,"hi":0},{"p":5,"s":"C","t":419,"lo":0,"hi":0.02},{"p":5,"s":"C","t":432,"lo":-0.1,"hi":0.3},{"p":5,"s":"C","t":446,"lo":-0.25,"hi":0.5},{"p":5,"s":"C","t":473,"lo":-0.22,"hi":0.75},{"p":5,"s":"C","t":487,"lo":-0.2,"hi":0.8},{"p":5,"s":"C","t":514,"lo":-0.05,"hi":0.75},{"p":5,"s":"C","t":541,"lo":-0.15,"hi":0.65},{"p":5,"s":"C","t":569,"lo":-0.12,"hi":0.7},{"p":5,"s":"C","t":596,"lo":-0.1,"hi":0.75},{"p":5,"s":"C","t":623,"lo":0,"hi":0.72},{"p":5,"s":"C","t":637,"lo":0,"hi":0.95},{"p":5,"s":"C","t":691,"lo":-0.05,"hi":0.97},{"p":5,"s":"C","t":760,"lo":-0.2,"hi":0.97},{"p":5,"s":"C","t":814,"lo":-0.3,"hi":0.97},{"p":5,"s":"C","t":855,"lo":-0.38,"hi":0.92},{"p":5,"s":"C","t":870,"lo":-0.35,"hi":0.9},{"p":5,"s":"C","t":897,"lo":-0.2,"hi":0.95},{"p":5,"s":"C","t":952,"lo":-0.1,"hi":0.97},{"p":5,"s":"C","t":1034,"lo":-0.05,"hi":0.97},{"p":5,"s":"C","t":1061,"lo":0.1,"hi":0.98},{"p":5,"s":"C","t":1082,"lo":0.38,"hi":0.98},{"p":5,"s":"C","t":1100,"lo":0.15,"hi":0.98},{"p":5,"s":"C","t":1129,"lo":-0.15,"hi":0.98},{"p":5,"s":"C","t":1156,"lo":-0.25,"hi":0.98},{"p":5,"s":"C","t":1184,"lo":-0.18,"hi":0.98},{"p":5,"s":"C","t":1252,"lo":-0.12,"hi":0.98},{"p":5,"s":"C","t":1320,"lo":-0.05,"hi":0.97},{"p":5,"s":"C","t":1388,"lo":-0.02,"hi":0.95},{"p":5,"s":"C","t":1429,"lo":0,"hi":0.88},{"p":5,"s":"C","t":1470,"lo":0.02,"hi":0.85},{"p":5,"s":"C","t":1484,"lo":0.02,"hi":0.6},{"p":5,"s":"C","t":1497,"lo":0,"hi":0.4},{"p":5,"s":"C","t":1525,"lo":0,"hi":0.15},{"p":5,"s":"C","t":1593,"lo":0,"hi":0.1},{"p":5,"s":"C","t":1675,"lo":0,"hi":0.15},{"p":5,"s":"C","t":1688,"lo":0,"hi":0.01},{"p":5,"s":"C","t":2100,"lo":0,"hi":0.01},
{"p":6,"s":"C","t":0,"lo":0,"hi":0},{"p":6,"s":"C","t":200,"lo":0,"hi":0.02},{"p":6,"s":"C","t":255,"lo":0,"hi":0.15},{"p":6,"s":"C","t":282,"lo":0.02,"hi":0.35},{"p":6,"s":"C","t":310,"lo":0,"hi":0.06},{"p":6,"s":"C","t":412,"lo":0,"hi":0.03},{"p":6,"s":"C","t":426,"lo":0.3,"hi":0.8},{"p":6,"s":"C","t":439,"lo":0.45,"hi":0.95},{"p":6,"s":"C","t":446,"lo":0.55,"hi":0.97},{"p":6,"s":"C","t":460,"lo":0.35,"hi":0.97},{"p":6,"s":"C","t":487,"lo":0.3,"hi":0.95},{"p":6,"s":"C","t":514,"lo":0.35,"hi":0.97},{"p":6,"s":"C","t":528,"lo":0.45,"hi":0.97},{"p":6,"s":"C","t":541,"lo":0.35,"hi":0.96},{"p":6,"s":"C","t":569,"lo":0.45,"hi":0.97},{"p":6,"s":"C","t":596,"lo":0.5,"hi":0.97},{"p":6,"s":"C","t":610,"lo":0.65,"hi":0.97},{"p":6,"s":"C","t":630,"lo":0.2,"hi":0.9},{"p":6,"s":"C","t":637,"lo":0.02,"hi":0.4},{"p":6,"s":"C","t":650,"lo":0,"hi":0.25},{"p":6,"s":"C","t":691,"lo":0,"hi":0.15},{"p":6,"s":"C","t":746,"lo":0,"hi":0.2},{"p":6,"s":"C","t":773,"lo":0,"hi":0.08},{"p":6,"s":"C","t":841,"lo":0,"hi":0.05},{"p":6,"s":"C","t":940,"lo":0,"hi":0.12},{"p":6,"s":"C","t":965,"lo":0,"hi":0.22},{"p":6,"s":"C","t":1000,"lo":0,"hi":0.05},{"p":6,"s":"C","t":1047,"lo":-0.03,"hi":0.01},{"p":6,"s":"C","t":1100,"lo":0,"hi":0.01},{"p":6,"s":"C","t":1388,"lo":0,"hi":0.02},{"p":6,"s":"C","t":1429,"lo":-0.05,"hi":0.15},{"p":6,"s":"C","t":1450,"lo":0,"hi":0.6},{"p":6,"s":"C","t":1484,"lo":0.05,"hi":0.75},{"p":6,"s":"C","t":1497,"lo":-0.1,"hi":0.75},{"p":6,"s":"C","t":1525,"lo":0.1,"hi":0.6},{"p":6,"s":"C","t":1552,"lo":-0.08,"hi":0.65},{"p":6,"s":"C","t":1572,"lo":0.1,"hi":0.72},{"p":6,"s":"C","t":1593,"lo":0.15,"hi":0.65},{"p":6,"s":"C","t":1620,"lo":0.15,"hi":0.72},{"p":6,"s":"C","t":1641,"lo":0.25,"hi":0.7},{"p":6,"s":"C","t":1661,"lo":0.2,"hi":0.6},{"p":6,"s":"C","t":1677,"lo":-0.1,"hi":0.55},{"p":6,"s":"C","t":1688,"lo":-0.4,"hi":0.6},{"p":6,"s":"C","t":1702,"lo":-0.05,"hi":0.6},{"p":6,"s":"C","t":1715,"lo":0.05,"hi":0.45},{"p":6,"s":"C","t":1736,"lo":0.05,"hi":0.35},{"p":6,"s":"C","t":1797,"lo":0.05,"hi":0.38},{"p":6,"s":"C","t":1852,"lo":0.05,"hi":0.38},{"p":6,"s":"C","t":1893,"lo":0.05,"hi":0.45},{"p":6,"s":"C","t":1920,"lo":0.03,"hi":0.3},{"p":6,"s":"C","t":1947,"lo":0.02,"hi":0.2},{"p":6,"s":"C","t":1961,"lo":0,"hi":0.05},{"p":6,"s":"C","t":2070,"lo":0,"hi":0.02},{"p":6,"s":"C","t":2100,"lo":0,"hi":0.12}
]
},
"vconcat": [
{"width": 512, "height": 98,
 "layer": [
  {"data": {"name": "bands"}, "transform": [{"filter": "datum.p == 1"}], "mark": {"type": "area", "opacity": 0.2},
   "encoding": {"x": {"field": "t", "type": "quantitative", "scale": {"domain": [0, 2100], "nice": false}, "axis": {"values": [0,210,420,630,840,1050,1260,1470,1680,1890,2100], "labels": false, "title": null}},
    "y": {"field": "lo", "type": "quantitative", "stack": null, "scale": {"domain": [0, 1], "nice": false}, "axis": {"values": [0, 0.5, 1], "format": "~g", "title": "p(response)"}},
    "y2": {"field": "hi"},
    "color": {"field": "s", "type": "nominal", "scale": {"domain": ["P", "G", "C"], "range": ["#cc00ff", "#00aa00", "#00ffff"]}, "legend": null}}},
  {"data": {"name": "lines"}, "transform": [{"filter": "datum.p == 1"}], "mark": {"type": "line", "strokeWidth": 2},
   "encoding": {"x": {"field": "t", "type": "quantitative"}, "y": {"field": "v", "type": "quantitative"},
    "color": {"field": "s", "type": "nominal", "legend": null}}},
  {"data": {"values": [{"label": "A"}]}, "mark": {"type": "text", "fontSize": 18, "font": "Liberation Sans", "align": "center", "baseline": "middle", "color": "#000"},
   "encoding": {"x": {"datum": -402, "type": "quantitative"}, "y": {"datum": 0.45, "type": "quantitative"}, "text": {"field": "label"}}}
 ]},
{"width": 512, "height": 98,
 "layer": [
  {"data": {"name": "bands"}, "transform": [{"filter": "datum.p == 2"}], "mark": {"type": "area", "opacity": 0.2},
   "encoding": {"x": {"field": "t", "type": "quantitative", "scale": {"domain": [0, 2100], "nice": false}, "axis": {"values": [0,210,420,630,840,1050,1260,1470,1680,1890,2100], "labels": false, "title": null}},
    "y": {"field": "lo", "type": "quantitative", "stack": null, "scale": {"domain": [0, 1], "nice": false}, "axis": {"values": [0, 0.5, 1], "format": "~g", "title": ["p(correct", "response", "| response)"], "titleLineHeight": 22}},
    "y2": {"field": "hi"},
    "color": {"field": "s", "type": "nominal", "legend": null}}},
  {"data": {"name": "lines"}, "transform": [{"filter": "datum.p == 2"}], "mark": {"type": "line", "strokeWidth": 2},
   "encoding": {"x": {"field": "t", "type": "quantitative"}, "y": {"field": "v", "type": "quantitative"},
    "color": {"field": "s", "type": "nominal", "legend": null}}}
 ]},
{"width": 512, "height": 98,
 "layer": [
  {"data": {"name": "bands"}, "transform": [{"filter": "datum.p == 3"}], "mark": {"type": "area", "opacity": 0.2},
   "encoding": {"x": {"field": "t", "type": "quantitative", "scale": {"domain": [0, 2100], "nice": false}, "axis": {"values": [0,210,420,630,840,1050,1260,1470,1680,1890,2100], "labels": false, "title": null}},
    "y": {"field": "lo", "type": "quantitative", "stack": null, "scale": {"domain": [0, 1], "nice": false}, "axis": {"values": [0, 0.5, 1], "format": "~g", "title": ["p(correct", "response)"], "titleLineHeight": 22}},
    "y2": {"field": "hi"},
    "color": {"field": "s", "type": "nominal", "legend": null}}},
  {"data": {"name": "lines"}, "transform": [{"filter": "datum.p == 3"}], "mark": {"type": "line", "strokeWidth": 2},
   "encoding": {"x": {"field": "t", "type": "quantitative"}, "y": {"field": "v", "type": "quantitative"},
    "color": {"field": "s", "type": "nominal", "legend": null}}},
  {"data": {"values": [{"label": "sep"}]}, "mark": {"type": "rule", "color": "#999999", "strokeWidth": 1.5, "strokeDash": [12, 6]},
   "encoding": {"x": {"datum": -464, "type": "quantitative"}, "x2": {"datum": 2186}, "y": {"datum": -0.102, "type": "quantitative"}}}
 ]},
{"width": 512, "height": 98,
 "layer": [
  {"data": {"name": "bands"}, "transform": [{"filter": "datum.p == 4"}], "mark": {"type": "area", "opacity": 0.2, "color": "#00ffff"},
   "encoding": {"x": {"field": "t", "type": "quantitative", "scale": {"domain": [0, 2100], "nice": false}, "axis": {"values": [0,210,420,630,840,1050,1260,1470,1680,1890,2100], "labels": false, "title": null}},
    "y": {"field": "lo", "type": "quantitative", "stack": null, "scale": {"domain": [-1, 1], "nice": false}, "axis": {"values": [-1, 0, 1], "format": "~g", "labelExpr": "replace(datum.label, '\u2212', '-')", "title": ["Difference in", "p(response)"], "titleLineHeight": 24}},
    "y2": {"field": "hi"}}},
  {"data": {"name": "lines"}, "transform": [{"filter": "datum.p == 4"}], "mark": {"type": "line", "strokeWidth": 2, "color": "#00f0f0"},
   "encoding": {"x": {"field": "t", "type": "quantitative"}, "y": {"field": "v", "type": "quantitative"}}}
 ]},
{"width": 512, "height": 98,
 "layer": [
  {"data": {"name": "bands"}, "transform": [{"filter": "datum.p == 5"}], "mark": {"type": "area", "opacity": 0.2, "color": "#00ffff"},
   "encoding": {"x": {"field": "t", "type": "quantitative", "scale": {"domain": [0, 2100], "nice": false}, "axis": {"values": [0,210,420,630,840,1050,1260,1470,1680,1890,2100], "labels": false, "title": null}},
    "y": {"field": "lo", "type": "quantitative", "stack": null, "scale": {"domain": [-1, 1], "nice": false}, "axis": {"values": [-1, 0, 1], "format": "~g", "labelExpr": "replace(datum.label, '\u2212', '-')", "title": ["Difference in", "p(correct response", "| response)"], "titleFontSize": 13.5, "titleLineHeight": 19}},
    "y2": {"field": "hi"}}},
  {"data": {"name": "lines"}, "transform": [{"filter": "datum.p == 5"}], "mark": {"type": "line", "strokeWidth": 2, "color": "#00f0f0"},
   "encoding": {"x": {"field": "t", "type": "quantitative"}, "y": {"field": "v", "type": "quantitative"}}}
 ]},
{"width": 512, "height": 98,
 "layer": [
  {"data": {"name": "bands"}, "transform": [{"filter": "datum.p == 6"}], "mark": {"type": "area", "opacity": 0.2, "color": "#00ffff"},
   "encoding": {"x": {"field": "t", "type": "quantitative", "scale": {"domain": [0, 2100], "nice": false}, "axis": {"values": [0,210,420,630,840,1050,1260,1470,1680,1890,2100], "format": "d", "title": "Trial Number", "titleFontSize": 17.5, "labelPadding": 4, "titlePadding": 2}},
    "y": {"field": "lo", "type": "quantitative", "stack": null, "scale": {"domain": [-1, 1], "nice": false}, "axis": {"values": [-1, 0, 1], "format": "~g", "labelExpr": "replace(datum.label, '\u2212', '-')", "title": ["Difference in", "p(correct response)"], "titleFontSize": 13.5, "titleLineHeight": 19}},
    "y2": {"field": "hi"}}},
  {"data": {"name": "lines"}, "transform": [{"filter": "datum.p == 6"}], "mark": {"type": "line", "strokeWidth": 2, "color": "#00f0f0"},
   "encoding": {"x": {"field": "t", "type": "quantitative"}, "y": {"field": "v", "type": "quantitative"}}}
 ]}
]
}
